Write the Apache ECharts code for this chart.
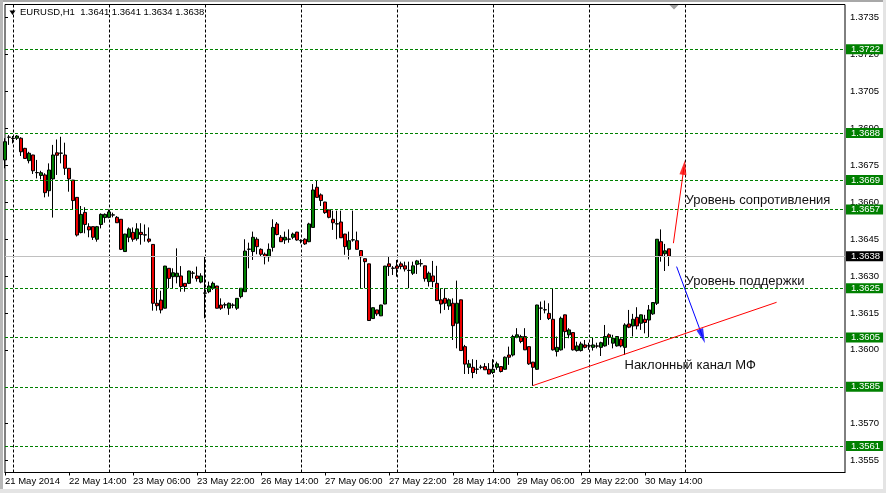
<!DOCTYPE html>
<html><head><meta charset="utf-8">
<script src="https://cdn.jsdelivr.net/npm/echarts@6/dist/echarts.min.js"></script>
<style>html,body{margin:0;padding:0;background:#fff}#c{width:886px;height:493px}</style>
</head><body><div id="c"></div><script>
const symbolName = 'EURUSD,H1';
const opens = [
1.36771,1.36863,1.36859,1.36859,1.36859,1.36818,1.36768,1.36791,1.36719,1.36708,
1.36710,1.36646,1.36694,1.36800,1.36798,1.36791,1.36737,1.36689,1.36619,1.36476,
1.36558,1.36500,1.36500,1.36449,1.36509,1.36537,1.36538,1.36547,1.36538,1.36530,
1.36399,1.36457,1.36477,1.36451,1.36477,1.36466,1.36450,1.36428,1.36189,1.36202,
1.36169,1.36331,1.36297,1.36297,1.36300,1.36270,1.36270,1.36311,1.36300,1.36275,
1.36230,1.36236,1.36250,1.36259,1.36182,1.36182,1.36169,1.36181,1.36169,1.36216,
1.36236,1.36408,1.36399,1.36449,1.36408,1.36388,1.36378,1.36416,1.36511,1.36457,
1.36446,1.36449,1.36457,1.36478,1.36443,1.36449,1.36439,1.36497,1.36660,1.36629,
1.36600,1.36568,1.36530,1.36511,1.36519,1.36470,1.36408,1.36446,1.36443,1.36403,
1.36370,1.36349,1.36127,1.36162,1.36138,1.36186,1.36349,1.36331,1.36340,1.36349,
1.36341,1.36322,1.36311,1.36347,1.36349,1.36341,1.36277,1.36300,1.36270,1.36203,
1.36209,1.36178,1.36189,1.36108,1.36203,1.36013,1.35929,1.35929,1.35921,1.35929,
1.35932,1.35921,1.35908,1.35929,1.35932,1.35921,1.35979,1.35979,1.36051,1.36054,
1.36054,1.36013,1.35950,1.35921,1.36169,1.36162,1.36148,1.36124,1.35993,1.36000,
1.36142,1.36061,1.36070,1.35997,1.35997,1.36020,1.36016,1.36010,1.36016,1.36010,
1.36016,1.36061,1.36027,1.36016,1.36043,1.36010,1.36105,1.36097,1.36132,1.36108,
1.36124,1.36121,1.36146,1.36189,1.36439,1.36390,1.36410];
const highs = [
1.36859,1.36872,1.36868,1.36872,1.36863,1.36820,1.36804,1.36792,1.36771,1.36727,
1.36717,1.36757,1.36832,1.36854,1.36865,1.36841,1.36738,1.36690,1.36620,1.36584,
1.36579,1.36514,1.36501,1.36503,1.36554,1.36554,1.36570,1.36557,1.36543,1.36531,
1.36471,1.36497,1.36497,1.36514,1.36514,1.36509,1.36497,1.36429,1.36250,1.36240,
1.36341,1.36332,1.36331,1.36412,1.36340,1.36271,1.36321,1.36320,1.36338,1.36311,
1.36380,1.36277,1.36277,1.36260,1.36209,1.36192,1.36192,1.36189,1.36210,1.36251,
1.36449,1.36435,1.36480,1.36457,1.36412,1.36395,1.36432,1.36530,1.36519,1.36466,
1.36480,1.36489,1.36476,1.36479,1.36449,1.36453,1.36516,1.36673,1.36687,1.36635,
1.36601,1.36569,1.36565,1.36565,1.36565,1.36471,1.36480,1.36565,1.36480,1.36404,
1.36371,1.36350,1.36172,1.36163,1.36183,1.36341,1.36380,1.36340,1.36365,1.36358,
1.36358,1.36358,1.36358,1.36365,1.36368,1.36342,1.36318,1.36361,1.36341,1.36250,
1.36250,1.36209,1.36209,1.36281,1.36204,1.36020,1.35959,1.35962,1.35959,1.35939,
1.35946,1.35946,1.35962,1.35952,1.35933,1.35973,1.36013,1.36061,1.36088,1.36061,
1.36088,1.36014,1.35951,1.36183,1.36196,1.36200,1.36189,1.36250,1.36054,1.36135,
1.36143,1.36088,1.36071,1.36033,1.36033,1.36040,1.36029,1.36051,1.36029,1.36033,
1.36101,1.36067,1.36061,1.36056,1.36047,1.36108,1.36162,1.36146,1.36173,1.36143,
1.36142,1.36182,1.36193,1.36450,1.36489,1.36430,1.36410];
const lows = [
1.36737,1.36832,1.36838,1.36852,1.36787,1.36775,1.36757,1.36714,1.36696,1.36692,
1.36619,1.36622,1.36537,1.36710,1.36757,1.36710,1.36642,1.36568,1.36460,1.36473,
1.36473,1.36457,1.36446,1.36439,1.36493,1.36516,1.36534,1.36538,1.36515,1.36405,
1.36398,1.36437,1.36439,1.36443,1.36427,1.36439,1.36435,1.36159,1.36159,1.36148,
1.36168,1.36250,1.36250,1.36270,1.36236,1.36236,1.36267,1.36290,1.36277,1.36270,
1.36128,1.36230,1.36243,1.36168,1.36162,1.36169,1.36142,1.36169,1.36162,1.36209,
1.36235,1.36331,1.36365,1.36388,1.36378,1.36347,1.36358,1.36399,1.36465,1.36438,
1.36430,1.36435,1.36449,1.36443,1.36432,1.36426,1.36437,1.36496,1.36618,1.36584,
1.36552,1.36534,1.36487,1.36449,1.36454,1.36386,1.36367,1.36439,1.36407,1.36250,
1.36250,1.36118,1.36126,1.36138,1.36137,1.36185,1.36300,1.36304,1.36297,1.36327,
1.36318,1.36250,1.36304,1.36308,1.36338,1.36277,1.36257,1.36254,1.36199,1.36148,
1.36162,1.36162,1.36040,1.36006,1.35996,1.35902,1.35902,1.35885,1.35902,1.35921,
1.35918,1.35901,1.35902,1.35919,1.35908,1.35919,1.35939,1.35973,1.36047,1.36027,
1.35999,1.35939,1.35854,1.35919,1.36121,1.36148,1.36121,1.35997,1.35973,1.35997,
1.36006,1.36047,1.35997,1.35993,1.35993,1.36006,1.36000,1.35997,1.36006,1.35975,
1.36013,1.36020,1.36006,1.36013,1.36010,1.35979,1.36088,1.36054,1.36083,1.36081,
1.36067,1.36051,1.36142,1.36182,1.36358,1.36320,1.36340];
const closes = [
1.36845,1.36864,1.36858,1.36868,1.36804,1.36777,1.36798,1.36727,1.36720,1.36719,
1.36638,1.36730,1.36791,1.36790,1.36799,1.36737,1.36694,1.36606,1.36466,1.36550,
1.36509,1.36487,1.36457,1.36500,1.36550,1.36550,1.36560,1.36548,1.36516,1.36408,
1.36470,1.36491,1.36449,1.36491,1.36468,1.36467,1.36441,1.36189,1.36179,1.36162,
1.36340,1.36290,1.36313,1.36311,1.36257,1.36257,1.36320,1.36312,1.36289,1.36300,
1.36231,1.36259,1.36270,1.36169,1.36169,1.36183,1.36189,1.36182,1.36209,1.36250,
1.36401,1.36409,1.36457,1.36419,1.36388,1.36378,1.36408,1.36497,1.36468,1.36439,
1.36457,1.36450,1.36470,1.36446,1.36444,1.36430,1.36511,1.36649,1.36619,1.36606,
1.36557,1.36538,1.36516,1.36512,1.36455,1.36419,1.36443,1.36447,1.36408,1.36378,
1.36358,1.36119,1.36171,1.36146,1.36182,1.36340,1.36338,1.36332,1.36331,1.36338,
1.36328,1.36323,1.36341,1.36361,1.36350,1.36289,1.36311,1.36277,1.36200,1.36186,
1.36189,1.36203,1.36098,1.36189,1.35997,1.35942,1.35943,1.35908,1.35922,1.35930,
1.35919,1.35902,1.35921,1.35943,1.35912,1.35970,1.35970,1.36054,1.36061,1.36034,
1.36000,1.35943,1.35929,1.36182,1.36170,1.36163,1.36127,1.36000,1.36010,1.36128,
1.36074,1.36081,1.36000,1.36016,1.36024,1.36010,1.36017,1.36020,1.36015,1.36029,
1.36054,1.36051,1.36047,1.36054,1.36016,1.36101,1.36092,1.36124,1.36097,1.36142,
1.36111,1.36162,1.36192,1.36449,1.36381,1.36402,1.36380];

const levels = [1.3722, 1.3688, 1.3669, 1.3657, 1.3625, 1.3605, 1.3585, 1.3561];
const bidPrice = 1.3638;
const priceTicks = [1.3735, 1.3720, 1.3705, 1.3690, 1.3675, 1.3660, 1.3645, 1.3630, 1.3615, 1.3600, 1.3585, 1.3570, 1.3555];
const trendLine = [[132, 1.35855], [192.9, 1.36193]];
const resistArrow = [[167.1, 1.36433], [169.74, 1.36741]];
const supportArrow = [[167.9, 1.36338], [174.35, 1.36055]];
const notes = [
  {name: 'Уровень сопротивления', coord: [170, 1.36606]},
  {name: 'Уровень поддержки', coord: [170, 1.36277]},
  {name: 'Наклонный канал МФ', coord: [154.75, 1.35935]}
];

const MONTHS = ['Jan','Feb','Mar','Apr','May','Jun','Jul','Aug','Sep','Oct','Nov','Dec'];
const slotCount = 211;
const categories = [];
let t = Date.UTC(2014, 4, 21, 22);
while (categories.length < slotCount) {
  const d = new Date(t);
  const wd = d.getUTCDay();
  if (wd !== 0 && wd !== 6) {
    categories.push(d.getUTCDate() + ' ' + MONTHS[d.getUTCMonth()] + ' ' + d.getUTCFullYear() + ' ' +
      String(d.getUTCHours()).padStart(2, '0') + ':00');
  }
  t += 3600000;
}
const nBars = opens.length;
const candleData = opens.map((o, i) => [o, closes[i], lows[i], highs[i]]);
const last = nBars - 1;
const titleText = symbolName + '  ' + [opens[last], highs[last], lows[last], closes[last]].map(v => v.toFixed(4)).join(' ');

const FONT = '"Liberation Sans", Arial, sans-serif';
const labelTick = (i) => i % 16 === 0 && i < nBars;
const dayLine = (i) => / 00:00$/.test(categories[i]) && i < nBars + 24;

const levelLabel = (bg) => ({
  show: true, position: 'end', distance: 1,
  formatter: p => Number(p.value).toFixed(4),
  color: '#fff', backgroundColor: bg, padding: [0, 3, 0, 5],
  fontSize: 9.5, lineHeight: 10, fontFamily: FONT
});
const arrowSeg = (pts, color) => [
  {coord: pts[0], lineStyle: {color: color, width: 1, type: 'solid'}},
  {coord: pts[1], lineStyle: {color: color, width: 1, type: 'solid'}}
];

const chart = echarts.init(document.getElementById('c'), null, {renderer: 'canvas'});
const option = {
  animation: false,
  backgroundColor: '#fff',
  textStyle: {fontFamily: FONT},
  title: {
    text: titleText, left: 20, top: 7, padding: 0,
    textStyle: {fontSize: 9.5, fontWeight: 'normal', color: '#000', fontFamily: FONT}
  },
  grid: {
    left: 5, top: 4.5, width: 840, height: 468,
    show: true, borderColor: '#000', borderWidth: 1, backgroundColor: '#fff',
    containLabel: false, outerBoundsMode: 'none'
  },
  xAxis: [{
    type: 'category', data: categories, boundaryGap: false,
    axisLine: {show: true, lineStyle: {color: '#000', width: 1}},
    axisTick: {show: true, length: 3, interval: labelTick, lineStyle: {color: '#000'}},
    axisLabel: {
      interval: labelTick, align: 'left', margin: 4, fontSize: 9.5, color: '#000', fontFamily: FONT,
      formatter: (v, i) => { const p = v.split(' '); return i === 0 ? p[0] + ' ' + p[1] + ' ' + p[2] : p[0] + ' ' + p[1] + ' ' + p[3]; }
    },
    splitLine: {show: true, interval: dayLine, lineStyle: {color: '#000', type: [3, 2], width: 1}}
  }, {
    type: 'value', min: 0, max: slotCount - 1, show: false
  }],
  yAxis: {
    type: 'value', position: 'right', min: 1.35502, max: 1.37402,
    axisLine: {show: false},
    axisTick: {show: true, length: 3, customValues: priceTicks, lineStyle: {color: '#000'}},
    axisLabel: {customValues: priceTicks, formatter: v => v.toFixed(4), margin: 5, fontSize: 9.5, color: '#000', fontFamily: FONT},
    splitLine: {show: false}
  },
  series: [{
    type: 'candlestick', data: candleData, barWidth: 3, clip: false,
    itemStyle: {color: '#008000', color0: '#ee0000', borderColor: '#000', borderColor0: '#000', borderColorDoji: '#000', borderWidth: 1},
    emphasis: {disabled: true},
    markLine: {
      silent: true, symbol: ['none', 'none'], animation: false, precision: 5,
      data: levels.map(v => ({yAxis: v, lineStyle: {color: '#008000', type: [3, 2], width: 1}, label: levelLabel('#008000')}))
        .concat([{yAxis: bidPrice, lineStyle: {color: '#c0c0c0', type: 'solid', width: 1}, label: levelLabel('#000')}])
    }
  }, {
    type: 'line', xAxisIndex: 1, yAxisIndex: 0, data: trendLine, symbol: 'none', clip: false, silent: true, z: 5,
    lineStyle: {color: '#ff0000', width: 1},
    markLine: {
      silent: true, animation: false, precision: 5, symbol: ['none', 'none'],
      label: {show: false},
      data: [arrowSeg(resistArrow, '#ff0000'), arrowSeg(supportArrow, '#0000ff')]
    },
    markPoint: {
      silent: true, symbol: 'circle', symbolSize: 1, itemStyle: {color: 'rgba(0,0,0,0)'},
      label: {show: true, position: 'right', distance: 0, formatter: '{b}', color: '#111', fontSize: 13, fontFamily: FONT},
      data: notes.map(n => ({name: n.name, coord: n.coord}))
    }
  }, {
    type: 'scatter', xAxisIndex: 1, yAxisIndex: 0, silent: true, clip: false, z: 6,
    symbol: 'triangle', symbolSize: [7, 15],
    data: []
  }],
  graphic: [
    {type: 'polygon', silent: true, shape: {points: [[9.5, 10.5], [15.5, 10.5], [12.5, 15]]}, style: {fill: '#000'}},
    {type: 'polygon', silent: true, z: 100, shape: {points: [[669.5, 5], [678.5, 5], [674, 9.5]]}, style: {fill: '#a0a0a0'}},
    {type: 'rect', silent: true, shape: {x: 0, y: 0, width: 886, height: 2}, style: {fill: '#a8a8a8'}},
    {type: 'rect', silent: true, shape: {x: 0, y: 0, width: 3, height: 493}, style: {fill: '#b8b8b8'}},
    {type: 'rect', silent: true, shape: {x: 883, y: 0, width: 3, height: 493}, style: {fill: '#e4e4e4'}},
    {type: 'rect', silent: true, shape: {x: 0, y: 489, width: 886, height: 4}, style: {fill: '#e4e4e4'}}
  ]
};
chart.setOption(option);

// arrow heads: rotate along each arrow's on-screen direction
const head = (pts, color) => {
  const a = chart.convertToPixel({xAxisIndex: 1, yAxisIndex: 0}, pts[0]);
  const b = chart.convertToPixel({xAxisIndex: 1, yAxisIndex: 0}, pts[1]);
  const ang = Math.atan2(b[0] - a[0], a[1] - b[1]) * 180 / Math.PI;
  return {value: pts[1], symbolRotate: -ang, itemStyle: {color: color}};
};
chart.setOption({series: [{}, {}, {data: [head(resistArrow, '#ff0000'), head(supportArrow, '#0000ff')]}]});
</script></body></html>
